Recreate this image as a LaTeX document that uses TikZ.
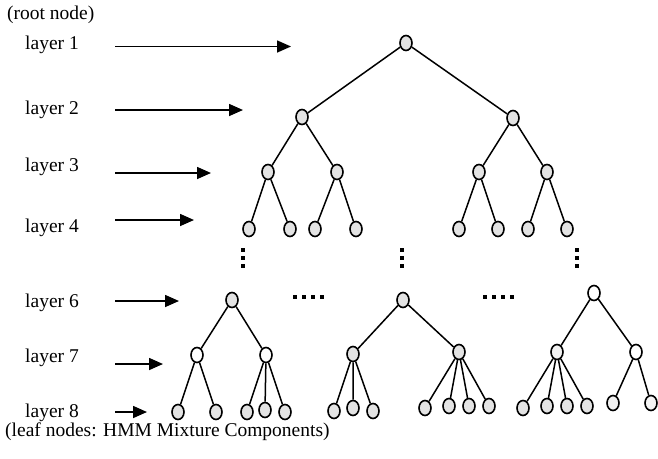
\documentclass[tikz,border=0pt]{standalone}
\usepackage{fontspec}
\setmainfont{Liberation Serif}
\usetikzlibrary{arrows.meta,shapes.geometric}
\begin{document}
\begin{tikzpicture}[x=1pt,y=-1pt,
  hnode/.style={ellipse,draw,line width=1.6pt,minimum width=12pt,minimum height=15pt,inner sep=0pt,fill=gray!22},
  wnode/.style={hnode,fill=white},
  edge/.style={line width=1.5pt},
  layerarrow/.style={line width=1.6pt,-{Triangle[length=14pt,width=12pt]}},
  lbl/.style={font=\fontsize{19.5}{23}\selectfont,anchor=west,inner sep=0pt},
  sq/.style={fill=black,minimum size=4.5pt,inner sep=0pt}]
\useasboundingbox (0,0) rectangle (658,458);

% labels on the left
\node[lbl] (rootlbl) at (7,15) {(root node)};
\node[lbl] (l1) at (25,45) {layer 1};
\node[lbl] (l2) at (25,110) {layer 2};
\node[lbl] (l3) at (25,167) {layer 3};
\node[lbl] (l4) at (25,228) {layer 4};
\node[lbl] (l6) at (25,303) {layer 6};
\node[lbl] (l7) at (25,358) {layer 7};
\node[lbl] (l8) at (25,413) {layer 8};
\node[lbl] (leaflbl) at (5,432) {(leaf nodes: HMM Mixture Components)};

% arrows pointing at each layer
\coordinate (s1) at (115,46.5);  \coordinate (e1) at (291,46.5);
\coordinate (s2) at (115,110);   \coordinate (e2) at (243,110);
\coordinate (s3) at (115,173);   \coordinate (e3) at (211,173);
\coordinate (s4) at (115,220);   \coordinate (e4) at (194,220);
\coordinate (s6) at (115,301);   \coordinate (e6) at (179,301);
\coordinate (s7) at (115,364);   \coordinate (e7) at (163,364);
\coordinate (s8) at (115,412);   \coordinate (e8) at (147,412);
\foreach \i in {1,2,3,4,6,7,8} \draw[layerarrow] (s\i) -- (e\i);

% upper tree, layers 1-4
\node[hnode] (r) at (406,43) {};
\node[hnode] (a) at (302,117) {};
\node[hnode] (b) at (513,118) {};
\node[hnode] (a1) at (268,172) {};
\node[hnode] (a2) at (337,172) {};
\node[hnode] (b1) at (479,172) {};
\node[hnode] (b2) at (547,172) {};
\node[hnode] (a1l) at (249,229) {};
\node[hnode] (a1r) at (290,229) {};
\node[hnode] (a2l) at (315,229) {};
\node[hnode] (a2r) at (356,229) {};
\node[hnode] (b1l) at (459,229) {};
\node[hnode] (b1r) at (498,229) {};
\node[hnode] (b2l) at (528,229) {};
\node[hnode] (b2r) at (567,229) {};
\draw[edge] (r) -- (a) (r) -- (b)
  (a) -- (a1) (a) -- (a2) (b) -- (b1) (b) -- (b2)
  (a1) -- (a1l) (a1) -- (a1r) (a2) -- (a2l) (a2) -- (a2r)
  (b1) -- (b1l) (b1) -- (b1r) (b2) -- (b2l) (b2) -- (b2r);

% elided layers
\foreach \x/\n in {243/v1,402/v2,577/v3} {
  \node[sq] (\n a) at (\x,250) {};
  \node[sq] (\n b) at (\x,258) {};
  \node[sq] (\n c) at (\x,266) {};
}
\foreach \x/\n in {295/h1,485/h2} {
  \node[sq] (\n a) at (\x,297) {};
  \node[sq] (\n b) at (\x+9,297) {};
  \node[sq] (\n c) at (\x+18,297) {};
  \node[sq] (\n d) at (\x+27,297) {};
}

% lower subtree 1, layers 6-8
\node[hnode] (t1) at (232,300) {};
\node[wnode] (t1a) at (197,355) {};
\node[wnode] (t1b) at (266,355) {};
\node[hnode] (t1a1) at (178,412) {};
\node[hnode] (t1a2) at (216,412) {};
\node[hnode] (t1b1) at (247,412) {};
\node[hnode] (t1b2) at (265,410) {};
\node[hnode] (t1b3) at (285,412) {};
\draw[edge] (t1) -- (t1a) (t1) -- (t1b)
  (t1a) -- (t1a1) (t1a) -- (t1a2)
  (t1b) -- (t1b1) (t1b) -- (t1b2) (t1b) -- (t1b3);

% lower subtree 2
\node[hnode] (t2) at (403,300) {};
\node[hnode] (t2a) at (353,354) {};
\node[hnode] (t2b) at (459,352) {};
\node[hnode] (t2a1) at (334,411) {};
\node[hnode] (t2a2) at (353,408) {};
\node[hnode] (t2a3) at (373,411) {};
\node[hnode] (t2b1) at (425,408) {};
\node[hnode] (t2b2) at (449,406) {};
\node[hnode] (t2b3) at (469,406) {};
\node[hnode] (t2b4) at (489,406) {};
\draw[edge] (t2) -- (t2a) (t2) -- (t2b)
  (t2a) -- (t2a1) (t2a) -- (t2a2) (t2a) -- (t2a3)
  (t2b) -- (t2b1) (t2b) -- (t2b2) (t2b) -- (t2b3) (t2b) -- (t2b4);

% lower subtree 3
\node[wnode] (t3) at (594,293) {};
\node[hnode,fill=gray!10] (t3a) at (557,352) {};
\node[wnode] (t3b) at (636,352) {};
\node[hnode] (t3a1) at (523,408) {};
\node[hnode] (t3a2) at (547,406) {};
\node[hnode] (t3a3) at (567,406) {};
\node[hnode] (t3a4) at (587,406) {};
\node[hnode,fill=gray!12] (t3b1) at (613,403) {};
\node[hnode,fill=gray!8] (t3b2) at (651,403) {};
\draw[edge] (t3) -- (t3a) (t3) -- (t3b)
  (t3a) -- (t3a1) (t3a) -- (t3a2) (t3a) -- (t3a3) (t3a) -- (t3a4)
  (t3b) -- (t3b1) (t3b) -- (t3b2);
\end{tikzpicture}
\end{document}
